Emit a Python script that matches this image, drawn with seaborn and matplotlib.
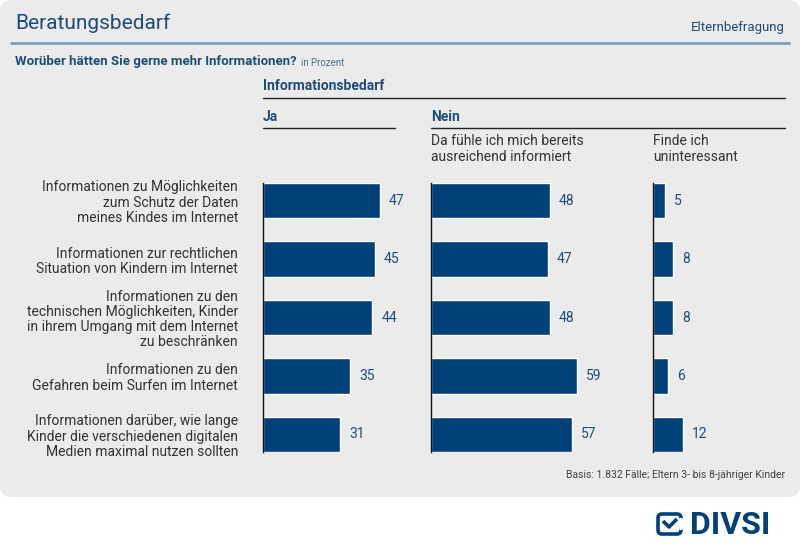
import numpy as np
import pandas as pd
import seaborn as sns
import matplotlib.pyplot as plt
from matplotlib.patches import FancyBboxPatch

# daten aus der grafik
kategorien = [
    "Informationen zu Möglichkeiten\nzum Schutz der Daten\nmeines Kindes im Internet",
    "Informationen zur rechtlichen\nSituation von Kindern im Internet",
    "Informationen zu den\ntechnischen Möglichkeiten, Kinder\nin ihrem Umgang mit dem Internet\nzu beschränken",
    "Informationen zu den\nGefahren beim Surfen im Internet",
    "Informationen darüber, wie lange\nKinder die verschiedenen digitalen\nMedien maximal nutzen sollten",
]
ja = [47, 45, 44, 35, 31]
nein_informiert = [48, 47, 48, 59, 57]
nein_uninteressant = [5, 8, 8, 6, 12]

df = pd.DataFrame({
    "kategorie": kategorien,
    "ja": ja,
    "informiert": nein_informiert,
    "uninteressant": nein_uninteressant,
})

sns.set_style("white")
plt.rcParams['font.family'] = ['Roboto', 'DejaVu Sans']

NAVY = "#00417a"
TEXTBLUE = "#1d4c7c"
GRAU = "#ebebeb"

fig = plt.figure(figsize=(8, 5.5), dpi=100)
fig.patch.set_facecolor("white")

# hintergrund-achse in pixelkoordinaten
bg = fig.add_axes([0, 0, 1, 1], zorder=0)
bg.set_xlim(0, 800)
bg.set_ylim(550, 0)
bg.axis("off")
bg.add_patch(FancyBboxPatch((0, 0), 800, 497, boxstyle="round,pad=0,rounding_size=12",
                            fc=GRAU, ec="none"))

bg.text(15, 23, "Beratungsbedarf", fontsize=15, color=TEXTBLUE, va="center", ha="left")
bg.text(785, 27, "Elternbefragung", fontsize=9.5, color=TEXTBLUE, va="center", ha="right")
bg.plot([10, 790], [43, 43], color="#7f9dbf", lw=2, solid_capstyle="butt")

frage = bg.text(15, 61, "Worüber hätten Sie gerne mehr Informationen?", fontsize=9.5,
                fontweight="bold", color=TEXTBLUE, va="baseline", ha="left")
frage.set_y(65)
bg.annotate("in Prozent", xy=(1, 0), xycoords=frage, xytext=(3, 0), textcoords="offset points",
            fontsize=7, color="#4f6f92", va="bottom", ha="left")

bg.text(263, 86, "Informationsbedarf", fontsize=10, fontweight="bold", color=TEXTBLUE,
        va="center", ha="left")
bg.plot([263, 785], [98, 98], color="#222222", lw=1)
bg.text(263, 117, "Ja", fontsize=10, fontweight="bold", color=TEXTBLUE, va="center", ha="left")
bg.text(431, 117, "Nein", fontsize=10, fontweight="bold", color=TEXTBLUE, va="center", ha="left")
bg.plot([263, 395], [128, 128], color="#222222", lw=1)
bg.plot([431, 785], [128, 128], color="#222222", lw=1)
bg.text(431, 149, "Da fühle ich mich bereits\nausreichend informiert", fontsize=10,
        color="#333333", va="center", ha="left", linespacing=1.1)
bg.text(653, 149, "Finde ich\nuninteressant", fontsize=10,
        color="#333333", va="center", ha="left", linespacing=1.1)

bg.text(785, 475, "Basis: 1.832 Fälle; Eltern 3- bis 8-jähriger Kinder", fontsize=7.5,
        color="#444444", va="center", ha="right")

# logo
bg.add_patch(FancyBboxPatch((658, 514), 23, 20, boxstyle="round,pad=0,rounding_size=4",
                            fc="none", ec=NAVY, lw=2.6))
bg.plot([681, 681], [520, 528], color="white", lw=3.2)
bg.plot([663, 669, 677], [521, 527, 519], color=NAVY, lw=2.6, solid_capstyle="butt")
bg.text(690, 525, "DIVSI", fontsize=23, fontweight="bold", color=NAVY, va="center", ha="left")

# balken-panels
k = 2.48  # pixel pro prozentpunkt
unten = (550 - 452) / 550
hoehe = 269 / 550
panels = [
    ("ja", 263, 53),
    ("informiert", 431, 85),
    ("uninteressant", 653, 53),
]

for i, (spalte, links, xmax) in enumerate(panels):
    ax = fig.add_axes([links / 800, unten, xmax * k / 800, hoehe], zorder=1)
    sns.barplot(data=df, x=spalte, y="kategorie", orient="h", color=NAVY,
                saturation=1, width=0.6, errorbar=None, ax=ax)
    ax.set_facecolor("none")
    ax.set_xlim(0, xmax)
    ax.set_ylim(4.3, -0.3)
    ax.set_xlabel("")
    ax.set_ylabel("")
    ax.set_xticks([])
    for s in ["top", "right", "bottom"]:
        ax.spines[s].set_visible(False)
    ax.spines["left"].set_color("#111111")
    ax.spines["left"].set_linewidth(1)
    ax.bar_label(ax.containers[0], padding=6.5, fontsize=10, color=TEXTBLUE)
    if i == 0:
        ax.tick_params(axis="y", length=0, pad=18, labelsize=10, labelcolor="#333333")
        for lab in ax.get_yticklabels():
            lab.set_linespacing(1.1)
    else:
        ax.set_yticks([])

fig.savefig("out.png", dpi=100, facecolor="white")
